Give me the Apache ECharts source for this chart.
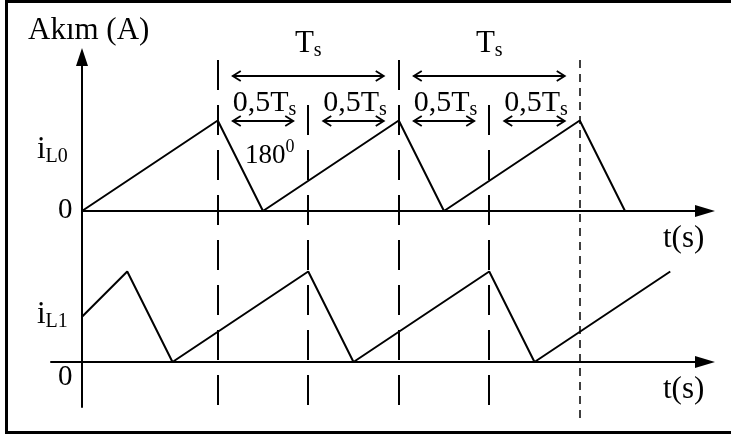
<!DOCTYPE html>
<html>
<head>
<meta charset="utf-8">
<script src="https://cdn.jsdelivr.net/npm/echarts@6/dist/echarts.min.js"></script>
<style>
  html, body { margin: 0; padding: 0; background: #fff; }
  #chart { width: 731px; height: 437px; }
</style>
</head>
<body>
<div id="chart"></div>
<script>
// Interleaved inductor currents; time in switching periods (Ts), current normalised to its peak
const il0Times  = [0, 0.75, 1.0, 1.75, 2.0, 2.75, 3.0];
const il0Values = [0, 1, 0, 1, 0, 1, 0];
const il1Times  = [0, 0.25, 0.5, 1.25, 1.5, 2.25, 2.5, 3.25];
const il1Values = [0.5, 1, 0, 1, 0, 1, 0, 1];

// switching instants marked by vertical guides
const periodMarks = [0.75, 1.75, 2.75];
const halfMarks   = [1.25, 2.25];

// dimension arrows between guides
const periodSpans = [[0.75, 1.75], [1.75, 2.75]];
const halfSpans   = [[0.75, 1.25], [1.25, 1.75], [1.75, 2.25], [2.25, 2.75]];

// text
const yAxisTitle  = 'Akım (A)';
const xAxisTitle  = 't(s)';
const periodText  = ['T', 's'];
const halfText    = ['0,5T', 's'];
const phaseText   = ['180', '0'];
const il0Text     = ['i', 'L0'];
const il1Text     = ['i', 'L1'];
const zeroText    = '0';

// layout (pixels)
const PX_T = 181;          // one switching period
const PX_I = 90.5;         // one unit of current
const ORIGIN_X = 82;
const AXIS_END_X = 705;    // arrow tip lies 10px further
const TOP_BASE = 211;
const BOT_BASE = 362;
const FONT = '"Liberation Serif", "Times New Roman", serif';

const chart = echarts.init(document.getElementById('chart'), null, { renderer: 'canvas' });

const axisLine = (arrow, size) => ({
  show: true,
  onZero: true,
  lineStyle: { color: '#000', width: 2 },
  symbol: arrow ? ['none', 'triangle'] : ['none', 'none'],
  symbolSize: size || [12, 20]
});
const bare = { axisTick: { show: false }, axisLabel: { show: false }, splitLine: { show: false } };

const topGridTop = 57;
const botGridBottom = 407;
const botLeft = 51;

chart.setOption({
  animation: false,
  backgroundColor: '#fff',
  grid: [
    { left: ORIGIN_X, top: topGridTop, width: AXIS_END_X - ORIGIN_X, height: TOP_BASE - topGridTop },
    { left: botLeft, top: TOP_BASE, width: AXIS_END_X - botLeft, height: botGridBottom - TOP_BASE }
  ],
  xAxis: [
    Object.assign({ type: 'value', gridIndex: 0, min: 0, max: (AXIS_END_X - ORIGIN_X) / PX_T,
      axisLine: axisLine(true) }, bare),
    Object.assign({ type: 'value', gridIndex: 1, min: -(ORIGIN_X - botLeft) / PX_T, max: (AXIS_END_X - ORIGIN_X) / PX_T,
      axisLine: axisLine(true) }, bare)
  ],
  yAxis: [
    Object.assign({ type: 'value', gridIndex: 0, min: 0, max: (TOP_BASE - topGridTop) / PX_I,
      axisLine: axisLine(true, [12, 18]) }, bare),
    Object.assign({ type: 'value', gridIndex: 1, min: -(botGridBottom - BOT_BASE) / PX_I, max: (BOT_BASE - TOP_BASE) / PX_I,
      axisLine: axisLine(false) }, bare)
  ],
  series: [
    { type: 'line', xAxisIndex: 0, yAxisIndex: 0, symbol: 'none', silent: true, clip: false,
      lineStyle: { color: '#000', width: 2 },
      data: il0Times.map((t, i) => [t, il0Values[i]]) },
    { type: 'line', xAxisIndex: 1, yAxisIndex: 1, symbol: 'none', silent: true, clip: false,
      lineStyle: { color: '#000', width: 2 },
      data: il1Times.map((t, i) => [t, il1Values[i]]) }
  ]
});

// pixel position of a time value on the shared time scale
const px = t => chart.convertToPixel({ xAxisIndex: 0 }, t);

const measure = (() => {
  const ctx = document.createElement('canvas').getContext('2d');
  return (str, size) => { ctx.font = size + 'px ' + FONT; return ctx.measureText(str).width; };
})();

function text(str, x, baseline, size, align) {
  return {
    type: 'text', x: x, y: baseline - 0.34 * size, silent: true, z: 20,
    style: { text: str, font: size + 'px ' + FONT, fill: '#000', align: align || 'left', verticalAlign: 'middle' }
  };
}

// main text followed by a sub/superscript
function scripted(parts, x, baseline, size, subBaseline, subSize) {
  const w = measure(parts[0], size);
  return [text(parts[0], x, baseline, size), text(parts[1], x + w, subBaseline, subSize)];
}

const stroke = { stroke: '#000', lineWidth: 1.8, fill: null };
function dimArrow(x1, x2, y) {
  const l = 8, h = 5;
  return [
    { type: 'line', silent: true, z: 15, shape: { x1: x1, y1: y, x2: x2, y2: y }, style: stroke },
    { type: 'polyline', silent: true, z: 15, shape: { points: [[x1 + l, y - h], [x1, y], [x1 + l, y + h]] }, style: stroke },
    { type: 'polyline', silent: true, z: 15, shape: { points: [[x2 - l, y - h], [x2, y], [x2 - l, y + h]] }, style: stroke }
  ];
}

const els = [];

// frame (open on the right)
const frame = { stroke: '#000', lineWidth: 3 };
els.push({ type: 'line', silent: true, z: 30, shape: { x1: 5, y1: 1.5, x2: 731, y2: 1.5 }, style: frame });
els.push({ type: 'line', silent: true, z: 30, shape: { x1: 6.5, y1: 0, x2: 6.5, y2: 434 }, style: frame });
els.push({ type: 'line', silent: true, z: 30, shape: { x1: 5, y1: 432.5, x2: 731, y2: 432.5 }, style: frame });

// guides at full-period instants
periodMarks.forEach((t, i) => {
  const x = Math.round(px(t));
  const last = i === periodMarks.length - 1;
  els.push({ type: 'line', silent: true, z: 5,
    shape: { x1: x, y1: 60, x2: x, y2: last ? 421 : 411 },
    style: { stroke: '#000', lineWidth: last ? 1.5 : 2, lineDash: last ? [8, 6] : [30, 15] } });
});
// guides at half-period instants
halfMarks.forEach(t => {
  const x = Math.round(px(t));
  els.push({ type: 'line', silent: true, z: 5,
    shape: { x1: x, y1: 105, x2: x, y2: 411 },
    style: { stroke: '#000', lineWidth: 2, lineDash: [30, 15] } });
});

// period dimensions
const inset = 15;
periodSpans.forEach(([a, b]) => {
  const x1 = px(a) + inset, x2 = px(b) - inset;
  els.push(...dimArrow(x1, x2, 76));
  const mid = (px(a) + px(b)) / 2;
  const w = measure(periodText[0], 31) + measure(periodText[1], 20);
  els.push(...scripted(periodText, mid - w / 2, 54, 31, 58, 20));
});
halfSpans.forEach(([a, b]) => {
  const x1 = px(a) + inset, x2 = px(b) - inset;
  els.push(...dimArrow(x1, x2, 121));
  els.push(...scripted(halfText, x1, 113, 30, 117, 20));
});

// phase shift note
els.push(...scripted(phaseText, 245, 165, 27, 153, 18));

// current labels and zeros
els.push(text(yAxisTitle, 28, 41, 31));
els.push(...scripted(il0Text, 37, 160, 31, 164, 20));
els.push(...scripted(il1Text, 37, 325, 31, 329, 20));
els.push(text(zeroText, 58, 220, 29));
els.push(text(zeroText, 58, 387, 29));
els.push(text(xAxisTitle, 663, 249, 31));
els.push(text(xAxisTitle, 663, 400, 31));

chart.setOption({ graphic: { elements: els } });
</script>
</body>
</html>
